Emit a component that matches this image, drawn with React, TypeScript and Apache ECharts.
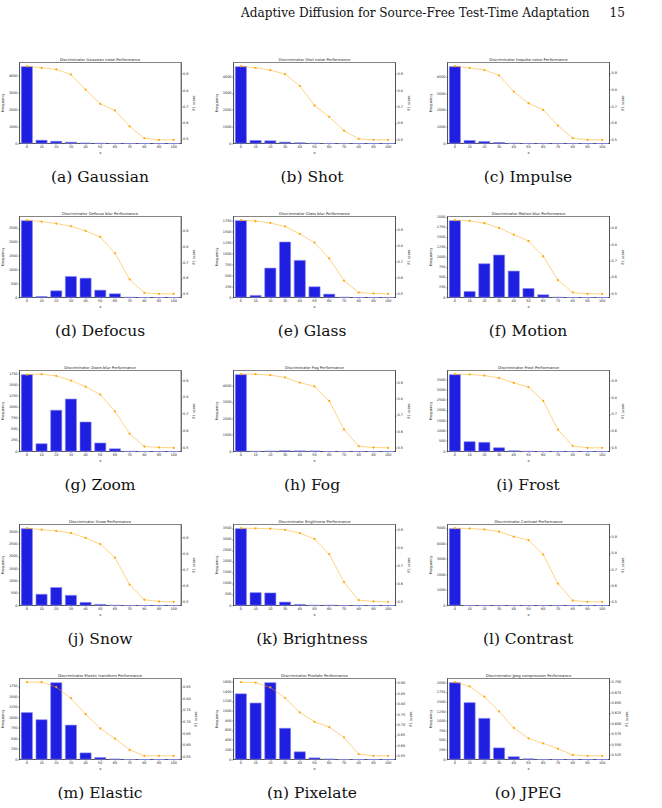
import React, { useEffect, useRef } from 'react';
import * as echarts from 'echarts';

const categories = ['0', '10', '20', '30', '40', '50', '60', '70', '80', '90', '100'];

const freqGaussian = [4540, 210, 150, 95, 40, 10, 0, 0, 0, 0, 0];
const f1Gaussian = [0.949, 0.939, 0.929, 0.898, 0.806, 0.718, 0.678, 0.58, 0.508, 0.498, 0.498];
const freqShot = [4620, 200, 180, 100, 60, 20, 0, 0, 0, 0, 0];
const f1Shot = [0.949, 0.939, 0.925, 0.9, 0.829, 0.71, 0.64, 0.556, 0.506, 0.5, 0.5];
const freqImpulse = [4640, 200, 140, 80, 20, 0, 0, 0, 0, 0, 0];
const f1Impulse = [0.943, 0.933, 0.92, 0.888, 0.79, 0.72, 0.68, 0.586, 0.51, 0.5, 0.5];
const freqDefocus = [2790, 47, 251, 770, 709, 276, 145, 11, 0, 0, 0];
const f1Defocus = [0.965, 0.956, 0.944, 0.927, 0.898, 0.86, 0.758, 0.594, 0.51, 0.504, 0.504];
const freqGlass = [1765, 54, 680, 1277, 856, 252, 84, 8, 0, 0, 0];
const f1Glass = [0.958, 0.952, 0.941, 0.919, 0.873, 0.819, 0.722, 0.583, 0.51, 0.504, 0.502];
const freqMotion = [1925, 158, 850, 1067, 667, 233, 75, 8, 0, 0, 0];
const f1Motion = [0.949, 0.945, 0.931, 0.902, 0.861, 0.822, 0.729, 0.584, 0.508, 0.5, 0.5];
const freqZoom = [1740, 183, 938, 1190, 672, 198, 68, 7, 0, 0, 0];
const f1Zoom = [0.936, 0.938, 0.928, 0.9, 0.864, 0.816, 0.717, 0.584, 0.508, 0.502, 0.5];
const freqFog = [4700, 15, 35, 65, 55, 45, 0, 0, 0, 0, 0];
const f1Fog = [0.954, 0.954, 0.948, 0.934, 0.902, 0.879, 0.789, 0.613, 0.51, 0.502, 0.5];
const freqFrost = [3750, 493, 460, 197, 49, 15, 0, 0, 0, 0, 0];
const f1Frost = [0.94, 0.939, 0.932, 0.918, 0.888, 0.863, 0.78, 0.608, 0.512, 0.5, 0.5];
const freqSnow = [3140, 468, 744, 427, 138, 57, 13, 0, 0, 0, 0];
const f1Snow = [0.959, 0.95, 0.942, 0.929, 0.898, 0.86, 0.776, 0.607, 0.513, 0.502, 0.5];
const freqBrightness = [3500, 598, 583, 169, 61, 15, 15, 0, 0, 0, 0];
const f1Brightness = [0.909, 0.908, 0.906, 0.9, 0.881, 0.849, 0.765, 0.609, 0.509, 0.502, 0.5];
const freqContrast = [5000, 0, 0, 0, 0, 0, 0, 0, 0, 0, 0];
const f1Contrast = [0.954, 0.952, 0.946, 0.933, 0.902, 0.881, 0.792, 0.613, 0.51, 0.502, 0.502];
const freqElastic = [1130, 960, 1845, 830, 165, 55, 18, 0, 0, 0, 0];
const f1Elastic = [0.871, 0.871, 0.85, 0.802, 0.733, 0.672, 0.628, 0.58, 0.554, 0.554, 0.554];
const freqPixelate = [1360, 1170, 1590, 650, 165, 40, 15, 0, 0, 0, 0];
const f1Pixelate = [0.905, 0.903, 0.88, 0.83, 0.76, 0.715, 0.69, 0.64, 0.56, 0.552, 0.552];
const freqJpeg = [2010, 1490, 1080, 310, 80, 25, 0, 0, 0, 0, 0];
const f1Jpeg = [0.7, 0.69, 0.665, 0.63, 0.59, 0.565, 0.553, 0.54, 0.525, 0.523, 0.523];

const f1TicksTenth = [0.5, 0.6, 0.7, 0.8, 0.9];
const f1TicksElastic = [0.55, 0.6, 0.65, 0.7, 0.75, 0.8, 0.85];
const f1TicksPixelate = [0.55, 0.6, 0.65, 0.7, 0.75, 0.8, 0.85, 0.9];
const f1TicksJpeg = [0.5, 0.525, 0.55, 0.575, 0.6, 0.625, 0.65, 0.675, 0.7];

const panels = [
  { title: 'Discriminator Gaussian noise Performance', caption: '(a) Gaussian', freq: freqGaussian, f1: f1Gaussian, step: 1000, ticks: f1TicksTenth, digits: 1 },
  { title: 'Discriminator Shot noise Performance', caption: '(b) Shot', freq: freqShot, f1: f1Shot, step: 1000, ticks: f1TicksTenth, digits: 1 },
  { title: 'Discriminator Impulse noise Performance', caption: '(c) Impulse', freq: freqImpulse, f1: f1Impulse, step: 1000, ticks: f1TicksTenth, digits: 1 },
  { title: 'Discriminator Defocus blur Performance', caption: '(d) Defocus', freq: freqDefocus, f1: f1Defocus, step: 500, ticks: f1TicksTenth, digits: 1 },
  { title: 'Discriminator Glass blur Performance', caption: '(e) Glass', freq: freqGlass, f1: f1Glass, step: 250, ticks: f1TicksTenth, digits: 1 },
  { title: 'Discriminator Motion blur Performance', caption: '(f) Motion', freq: freqMotion, f1: f1Motion, step: 250, ticks: f1TicksTenth, digits: 1 },
  { title: 'Discriminator Zoom blur Performance', caption: '(g) Zoom', freq: freqZoom, f1: f1Zoom, step: 250, ticks: f1TicksTenth, digits: 1 },
  { title: 'Discriminator Fog Performance', caption: '(h) Fog', freq: freqFog, f1: f1Fog, step: 1000, ticks: f1TicksTenth, digits: 1 },
  { title: 'Discriminator Frost Performance', caption: '(i) Frost', freq: freqFrost, f1: f1Frost, step: 500, ticks: f1TicksTenth, digits: 1 },
  { title: 'Discriminator Snow Performance', caption: '(j) Snow', freq: freqSnow, f1: f1Snow, step: 500, ticks: f1TicksTenth, digits: 1 },
  { title: 'Discriminator Brightness Performance', caption: '(k) Brightness', freq: freqBrightness, f1: f1Brightness, step: 500, ticks: f1TicksTenth, digits: 1 },
  { title: 'Discriminator Contrast Performance', caption: '(l) Contrast', freq: freqContrast, f1: f1Contrast, step: 1000, ticks: f1TicksTenth, digits: 1 },
  { title: 'Discriminator Elastic transform Performance', caption: '(m) Elastic', freq: freqElastic, f1: f1Elastic, step: 250, ticks: f1TicksElastic, digits: 2 },
  { title: 'Discriminator Pixelate Performance', caption: '(n) Pixelate', freq: freqPixelate, f1: f1Pixelate, step: 200, ticks: f1TicksPixelate, digits: 2 },
  { title: 'Discriminator Jpeg compression Performance', caption: '(o) JPEG', freq: freqJpeg, f1: f1Jpeg, step: 250, ticks: f1TicksJpeg, digits: 3 },
];

const headerText = 'Adaptive Diffusion for Source-Free Test-Time Adaptation';
const pageNumber = '15';

export default function App() {
  const ref = useRef<HTMLDivElement>(null);
  useEffect(() => {
    const chart = echarts.init(ref.current!, null, { renderer: 'svg' });
    const W = 162;
    const H = 81;
    const colLeft = [19, 233.5, 447.5];
    const captionX = [100, 312, 528];
    const rowTop = [62.5, 216.5, 370.5, 524.5, 678.5];
    const captionY = [177, 331, 485, 639, 793];
    const axisColor = '#333';
    const sans = 'DejaVu Sans';
    const tickFont = 3.4;
    const grids: any[] = [];
    const xAxes: any[] = [];
    const yAxes: any[] = [];
    const series: any[] = [];
    const graphics: any[] = [];

    panels.forEach((p, i) => {
      const r = Math.floor(i / 3);
      const c = i % 3;
      const left = colLeft[c];
      const top = rowTop[r];
      grids.push({ left, top, width: W, height: H, show: true, borderColor: axisColor, borderWidth: 0.6, backgroundColor: 'transparent' });
      xAxes.push({
        type: 'category', gridIndex: i, data: categories,
        name: 'x', nameLocation: 'middle', nameGap: 7,
        nameTextStyle: { fontSize: 3.6, color: '#222', fontFamily: sans },
        axisLine: { show: true, lineStyle: { color: axisColor, width: 0.6 } },
        axisTick: { show: true, alignWithLabel: true, length: 1.5, lineStyle: { color: axisColor, width: 0.4 } },
        axisLabel: { fontSize: tickFont, color: '#222', margin: 2.2, interval: 0, fontFamily: sans },
        splitLine: { show: false },
      });
      const fMax = Math.max(...p.freq) * 1.05;
      const lt: number[] = [];
      for (let v = 0; v <= fMax; v += p.step) lt.push(v);
      yAxes.push({
        type: 'value', gridIndex: i, position: 'left', min: 0, max: fMax,
        name: 'Frequency', nameLocation: 'middle', nameGap: 11, nameRotate: 90,
        nameTextStyle: { fontSize: 3.6, color: '#222', fontFamily: sans },
        axisLine: { show: true, lineStyle: { color: axisColor, width: 0.6 } },
        axisTick: { show: true, length: 1.5, customValues: lt, lineStyle: { color: axisColor, width: 0.4 } },
        axisLabel: {
          fontSize: tickFont, color: '#222', margin: 2, customValues: lt, hideOverlap: false, fontFamily: sans,
          formatter: (v: number) => String(Math.round(v)),
        },
        splitLine: { show: false },
      });
      const lo = Math.min(...p.f1);
      const hi = Math.max(...p.f1);
      const pad = (hi - lo) * 0.05;
      yAxes.push({
        type: 'value', gridIndex: i, position: 'right', min: lo - pad, max: hi + pad,
        name: 'F1 score', nameLocation: 'middle', nameGap: p.digits === 1 ? 9 : p.digits === 2 ? 11 : 13, nameRotate: 90,
        nameTextStyle: { fontSize: 3.6, color: '#222', fontFamily: sans },
        axisLine: { show: true, lineStyle: { color: axisColor, width: 0.6 } },
        axisTick: { show: true, length: 1.5, customValues: p.ticks, lineStyle: { color: axisColor, width: 0.4 } },
        axisLabel: {
          fontSize: tickFont, color: '#222', margin: 2, customValues: p.ticks, hideOverlap: false, fontFamily: sans,
          formatter: (v: number) => v.toFixed(p.digits),
        },
        splitLine: { show: false },
      });
      series.push({
        type: 'bar', xAxisIndex: i, yAxisIndex: 2 * i, data: p.freq, barWidth: '80%',
        itemStyle: { color: '#1f1fe2', borderColor: '#8a8af2', borderWidth: 0.6 },
      });
      series.push({
        type: 'line', xAxisIndex: i, yAxisIndex: 2 * i + 1, data: p.f1,
        symbol: 'circle', symbolSize: 2,
        lineStyle: { color: 'rgba(255,165,0,0.6)', width: 0.8 },
        itemStyle: { color: '#ffa500' },
      });
      graphics.push({
        type: 'text', x: left + W / 2, y: top - 1.5,
        style: { text: p.title, fontSize: 3.8, fill: '#222', align: 'center', verticalAlign: 'bottom', fontFamily: sans },
      });
      graphics.push({
        type: 'text', x: captionX[c], y: captionY[r],
        style: { text: p.caption, fontSize: 15.5, fill: '#111', align: 'center', verticalAlign: 'middle', fontFamily: 'DejaVu Serif' },
      });
    });

    graphics.push({
      type: 'text', x: 241, y: 12.5,
      style: { text: headerText, fontSize: 12.1, fill: '#111', align: 'left', verticalAlign: 'middle', fontFamily: 'DejaVu Serif' },
    });
    graphics.push({
      type: 'text', x: 625, y: 12.5,
      style: { text: pageNumber, fontSize: 12.1, fill: '#111', align: 'right', verticalAlign: 'middle', fontFamily: 'DejaVu Serif' },
    });

    chart.setOption({
      animation: false,
      backgroundColor: '#ffffff',
      grid: grids,
      xAxis: xAxes,
      yAxis: yAxes,
      series,
      graphic: graphics,
    });
    return () => chart.dispose();
  }, []);
  return <div ref={ref} style={{ position: 'absolute', left: 0, top: 0, width: 662, height: 808 }} />;
}
